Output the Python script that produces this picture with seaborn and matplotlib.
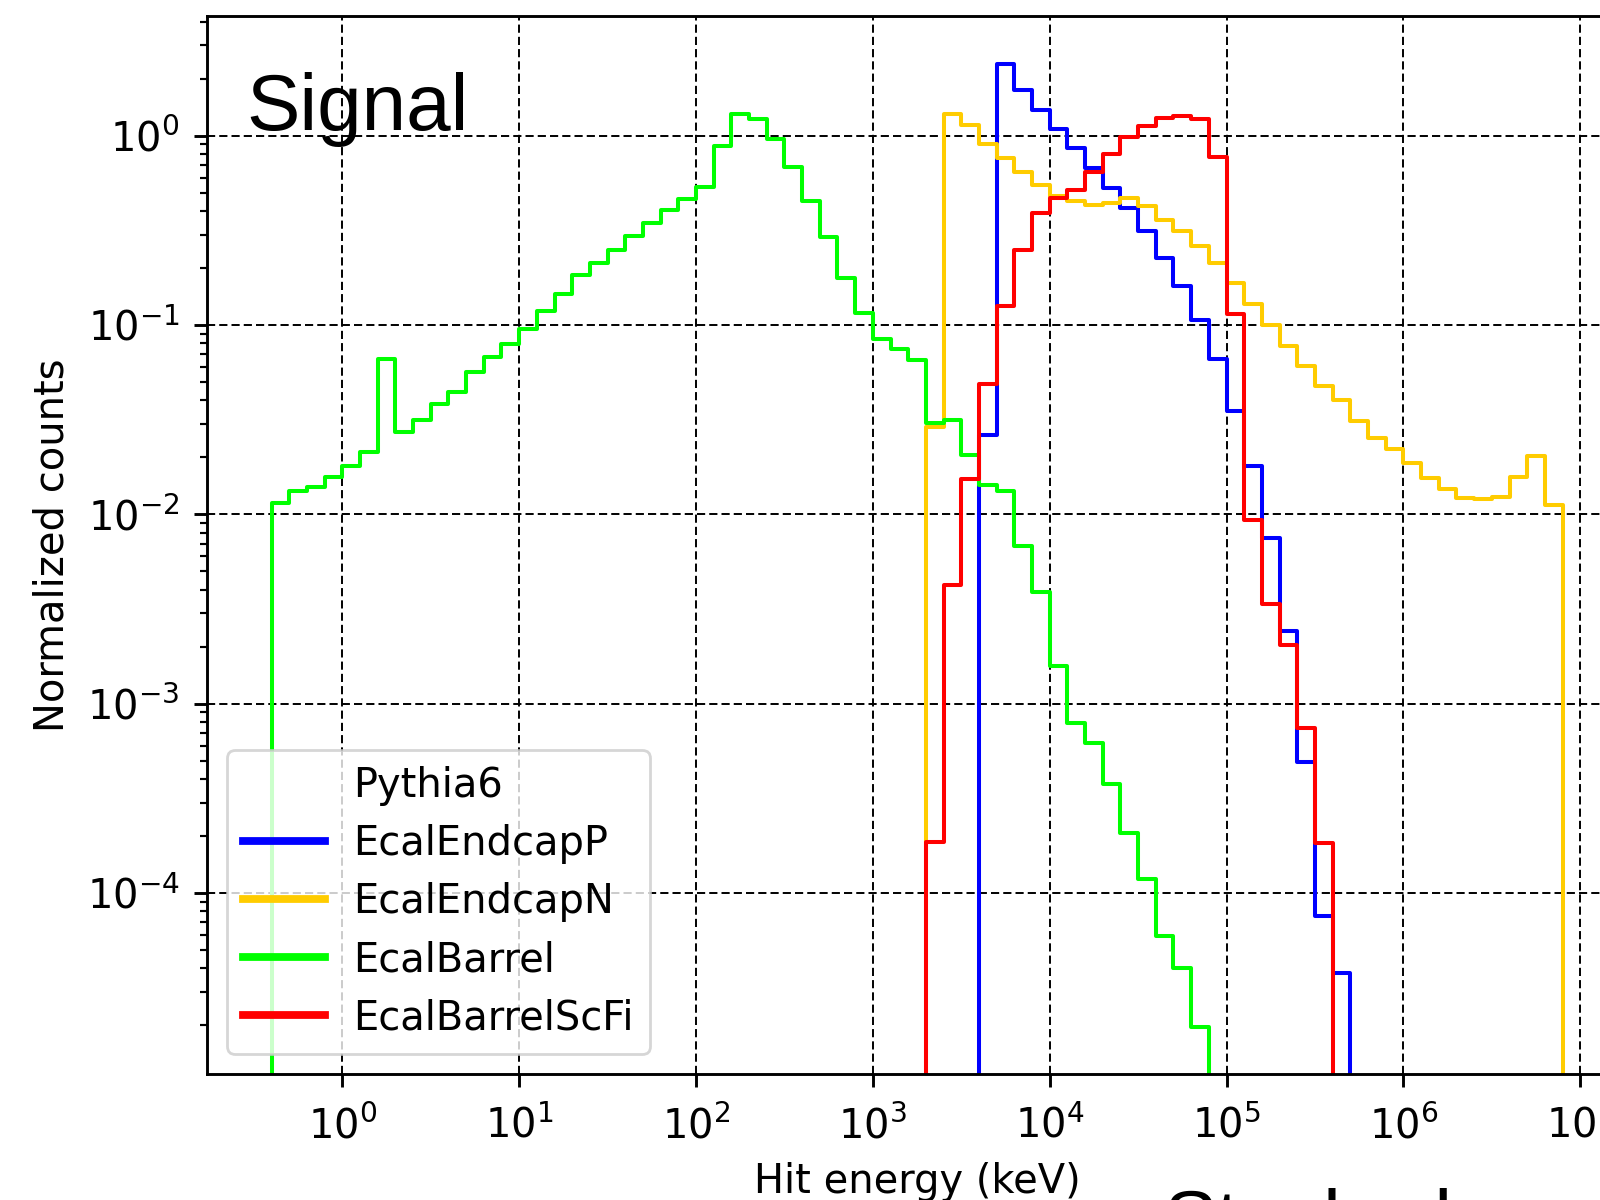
import numpy as np
import pandas as pd
import matplotlib
matplotlib.use("Agg")
import matplotlib.pyplot as plt
from matplotlib.lines import Line2D
from matplotlib.ticker import NullLocator
import seaborn as sns

# ---------------- data ----------------
# 10 logarithmic bins per decade; bin k spans 10^(k/10) .. 10^((k+1)/10) keV
# (one empty bin on each side so the outlines drop to the baseline)
edge_exp = [k / 10.0 for k in range(-5, 71)]          # bin edges in log10(keV)

detectors = ["EcalEndcapP", "EcalEndcapN", "EcalBarrel", "EcalBarrelScFi"]
colors = ["#0000ff", "#ffcc00", "#00ff00", "#ff0000"]

# first bin index k of each series
endcapP_start = 36
endcapN_start = 33
barrel_start = -4
scfi_start = 33

endcapP_vals = [0.0262, 2.38, 1.74, 1.37, 1.08, 0.865, 0.673, 0.531, 0.413, 0.314,
                0.227, 0.161, 0.106, 0.0661, 0.0353, 0.0179, 0.00747, 0.00243,
                0.000493, 7.55e-5, 3.76e-5]

endcapN_vals = [0.029, 1.30, 1.14, 0.904, 0.759, 0.645, 0.549, 0.482, 0.452, 0.431,
                0.440, 0.467, 0.427, 0.359, 0.314, 0.263, 0.212, 0.166, 0.129, 0.100,
                0.0774, 0.0610, 0.0478, 0.0402, 0.0312, 0.0252, 0.0220, 0.0186,
                0.0155, 0.0136, 0.01215, 0.01205, 0.0124, 0.0157, 0.0203, 0.0112]

barrel_vals = [0.0115, 0.0132, 0.0140, 0.0158, 0.0181, 0.0214, 0.0659, 0.0271, 0.0315,
               0.0383, 0.0444, 0.0567, 0.0675, 0.0791, 0.0956, 0.1186, 0.1452, 0.1837,
               0.212, 0.250, 0.296, 0.348, 0.405, 0.463, 0.534, 0.882, 1.30, 1.23,
               0.957, 0.686, 0.454, 0.291, 0.177, 0.116, 0.0840, 0.0744, 0.0653,
               0.0303, 0.0315, 0.0206, 0.0143, 0.0133, 0.00683, 0.00387, 0.00158,
               0.000793, 0.000617, 0.000376, 0.000208, 0.000118, 5.94e-5, 4.0e-5,
               1.96e-5]

scfi_vals = [1.85e-4, 0.00423, 0.0154, 0.0486, 0.126, 0.249, 0.389, 0.470, 0.517,
             0.645, 0.797, 0.988, 1.12, 1.245, 1.275, 1.22, 0.775, 0.114, 0.00933,
             0.00337, 0.00204, 0.00074, 0.000184]

starts = [endcapP_start, endcapN_start, barrel_start, scfi_start]
values = [endcapP_vals, endcapN_vals, barrel_vals, scfi_vals]

legend_title_entry = "Pythia6"
x_label = "Hit energy (keV)"
y_label = "Normalized counts"

# ---------------- style ----------------
S = 1.3
plt.rcParams.update({
    "font.family": ["DejaVu Sans"],
    "font.size": 14.4,
    "axes.linewidth": 0.8 * S,
    "xtick.major.size": 3.5 * S, "ytick.major.size": 3.5 * S,
    "xtick.minor.size": 2.0 * S, "ytick.minor.size": 2.0 * S,
    "xtick.major.width": 0.8 * S, "ytick.major.width": 0.8 * S,
    "xtick.minor.width": 0.6 * S, "ytick.minor.width": 0.6 * S,
    "xtick.major.pad": 3.5 * S + 2.6, "ytick.major.pad": 3.5 * S + 0.8,
    "axes.labelpad": 4.0 * S,
})

fig = plt.figure(figsize=(8, 6), dpi=200)
W, H = 1600, 1200
ax = fig.add_axes([207 / W, 1 - 1074 / H, (1628 - 207) / W, (1074 - 16.3) / H])
ax.set_xscale("log")
ax.set_yscale("log")

for name, col, k0, vals in zip(detectors, colors, starts, values):
    k = k0 + np.arange(len(vals))
    df = pd.DataFrame({"energy": 10 ** ((k + 0.5) / 10.0), "weight": vals})
    sns.histplot(data=df, x="energy", weights="weight", bins=edge_exp,
                 element="step", fill=False, color=col, linewidth=1.45, ax=ax)

ax.set_xlim(10 ** -0.765, 10 ** 7.27)
ax.set_ylim(10 ** -4.957, 10 ** 0.631)
ax.xaxis.set_minor_locator(NullLocator())
ax.grid(True, which="major", color="k", linestyle=(0, (4.2, 2.1)), linewidth=0.7)
ax.set_xlabel(x_label)
ax.set_ylabel(y_label)

handles = [Line2D([], [], linestyle="none", label=legend_title_entry)]
handles += [Line2D([], [], color=c, lw=2.8, label=n) for n, c in zip(detectors, colors)]
ax.legend(handles=handles, loc="lower left", handlelength=2.05, handletextpad=0.7,
          labelspacing=0.45)

fig.text(246 / W, 1 - 130.3 / H, "Signal", fontsize=28.8,
         family=["Liberation Sans", "DejaVu Sans"], ha="left", va="baseline")
fig.text(1163 / W, 1 - 1246 / H, "Stacked", fontsize=28.8,
         family=["Liberation Sans", "DejaVu Sans"], ha="left", va="baseline")

fig.savefig("out.png", dpi=200)
